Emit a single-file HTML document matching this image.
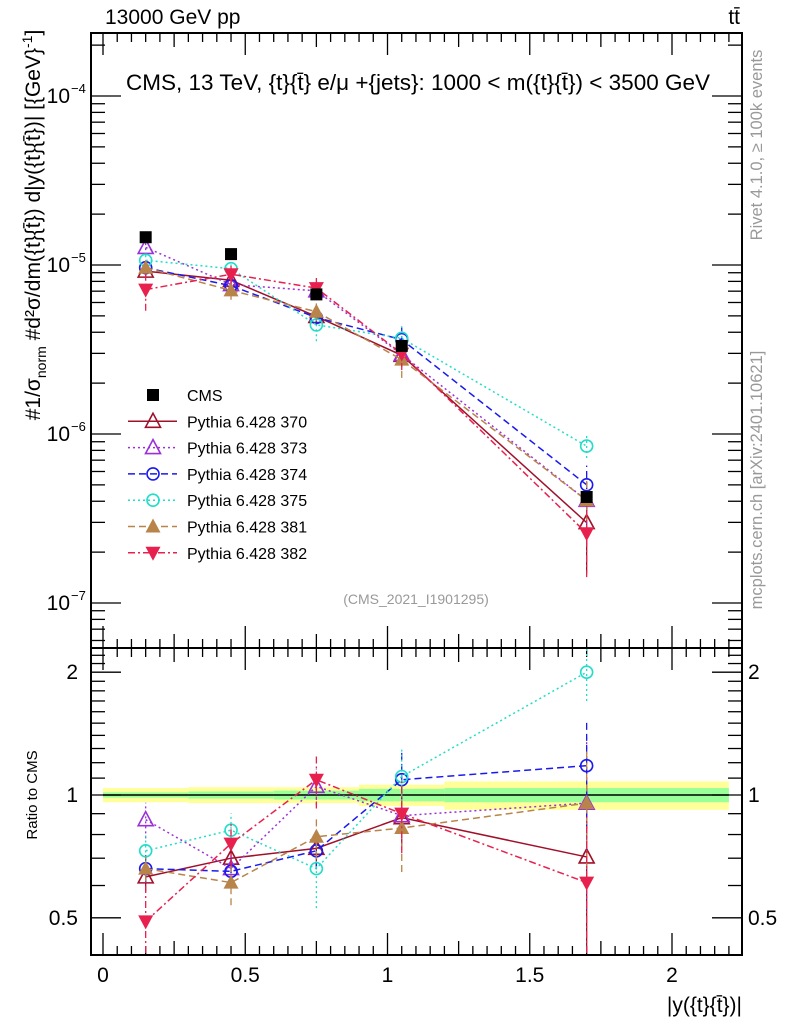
<!DOCTYPE html>
<html><head><meta charset="utf-8"><style>
html,body{margin:0;padding:0;background:#fff;}
svg{display:block;font-family:"Liberation Sans",sans-serif;}
</style></head><body>
<svg id="chart" width="786" height="1024" viewBox="0 0 786 1024">
<g id="bands"></g>
<g id="axes"></g>
<g id="series"></g>
<g id="legend"></g>
<text x="105" y="24" font-size="21">13000 GeV pp</text>
<text x="740" y="24" font-size="21" text-anchor="end">tt̄</text>
<text x="418" y="90" font-size="22.5" text-anchor="middle">CMS, 13 TeV, {t}{t̄} e/μ +{jets}: 1000 &lt; m({t}{t̄}) &lt; 3500 GeV</text>
<text x="416" y="604" font-size="14" fill="#999" text-anchor="middle">(CMS_2021_I1901295)</text>
<text transform="translate(762,145) rotate(-90)" font-size="16.5" fill="#999" text-anchor="middle">Rivet 4.1.0, ≥ 100k events</text>
<text transform="translate(762,480) rotate(-90)" font-size="16.5" fill="#999" text-anchor="middle">mcplots.cern.ch [arXiv:2401.10621]</text>
<text transform="translate(40,225) rotate(-90)" font-size="21" text-anchor="middle">#<tspan>1/σ</tspan><tspan font-size="14" dy="6">norm</tspan><tspan dy="-6"> #d²σ/dm({t}{t̄}) d|y({t}{t̄})| [{GeV}</tspan><tspan font-size="14" dy="-8">-1</tspan><tspan dy="8">]</tspan></text>
<text transform="translate(37,795) rotate(-90)" font-size="15" text-anchor="middle">Ratio to CMS</text>
<text x="742" y="1012" font-size="21" text-anchor="end">|y({t}{t̄})|</text>
</svg>
<script>
const xVals = [0.15, 0.45, 0.75, 1.05, 1.7];
const cmsVals = [1.46e-5, 1.16e-5, 6.7e-6, 3.32e-6, 4.24e-7];
const ratio370 = [0.63, 0.70, 0.74, 0.88, 0.705];
const ratio373 = [0.87, 0.66, 1.05, 0.89, 0.955];
const ratio374 = [0.66, 0.65, 0.73, 1.09, 1.18];
const ratio375 = [0.73, 0.82, 0.66, 1.11, 2.0];
const ratio381 = [0.66, 0.61, 0.79, 0.83, 0.955];
const ratio382 = [0.49, 0.76, 1.09, 0.90, 0.61];
const relErr370 = [0.08, 0.06, 0.1, 0.15, 0.5];
const relErr373 = [0.1, 0.08, 0.1, 0.15, 0.45];
const relErr374 = [0.08, 0.07, 0.1, 0.18, 0.3];
const relErr375 = [0.09, 0.1, 0.2, 0.18, 0.15];
const relErr381 = [0.07, 0.12, 0.12, 0.22, 0.35];
const relErr382 = [0.25, 0.12, 0.15, 0.2, 0.45];
const binEdges = [0, 0.3, 0.6, 0.9, 1.2, 2.2];
const bandYellow = [0.04, 0.045, 0.045, 0.06, 0.08];
const bandGreen = [0.015, 0.02, 0.025, 0.035, 0.04];
const mainTicks = ["10^-7","10^-6","10^-5","10^-4"];
const ratioTicks = [0.5, 1, 2];
const xTicks = [0, 0.5, 1, 1.5, 2];

const NS="http://www.w3.org/2000/svg";
const L=91,R=742,MT=33,MB=648,RT=648,RB=955;
const X=v=>103+(v)*284.5;
const Ym=v=>96+(-4-Math.log10(v))*169;
const Yr=v=>795-Math.log10(v)*408;
function el(tag,attrs,parent){const e=document.createElementNS(NS,tag);for(const k in attrs)e.setAttribute(k,attrs[k]);parent.appendChild(e);return e;}
const axes=document.getElementById('axes'),bands=document.getElementById('bands'),ser=document.getElementById('series'),leg=document.getElementById('legend');

for(let i=0;i<bandYellow.length;i++){
  const x0=X(binEdges[i]),x1=X(binEdges[i+1]);
  const y=el('rect',{x:x0,y:Yr(1+bandYellow[i]),width:x1-x0,height:Yr(1-bandYellow[i])-Yr(1+bandYellow[i]),fill:'#ffff99'},bands);
  
  
  const g=el('rect',{x:x0,y:Yr(1+bandGreen[i]),width:x1-x0,height:Yr(1-bandGreen[i])-Yr(1+bandGreen[i]),fill:'#99ff99'},bands);
  
  
}
el('line',{x1:X(0),x2:X(2.2),y1:Yr(1),y2:Yr(1),stroke:'#000','stroke-width':1.5},bands);

el('rect',{x:L,y:MT,width:R-L,height:MB-MT,fill:'none',stroke:'#000','stroke-width':2},axes);
el('rect',{x:L,y:RT,width:R-L,height:RB-RT,fill:'none',stroke:'#000','stroke-width':2},axes);
for(let k=0;k<=44;k++){const v=k*0.05;const x=X(v);if(x>R)break;const maj=k%10==0;const len=maj?22:(k%5==0?14:9);
  [[MT,1],[MB,-1],[RT,1],[RB,-1]].forEach(([y,d])=>el('line',{x1:x,x2:x,y1:y,y2:y+d*len,stroke:'#000','stroke-width':1.3},axes));}
xTicks.forEach(v=>{const t=el('text',{x:X(v),y:982,'font-size':21,'text-anchor':'middle'},axes);t.textContent=String(v);
  
  });
for(let e=-8;e<=-4;e++)for(let m=1;m<=9;m++){const v=m*Math.pow(10,e);const y=Ym(v);if(y<MT||y>MB)continue;const len=m==1?30:14;
  el('line',{x1:L,x2:L+len,y1:y,y2:y,stroke:'#000','stroke-width':1.3},axes);el('line',{x1:R,x2:R-len,y1:y,y2:y,stroke:'#000','stroke-width':1.3},axes);}
mainTicks.forEach(s=>{const e=parseInt(s.split('^')[1]);const y=Ym(Math.pow(10,e));
  const t=el('text',{x:70,y:y+7,'font-size':21,'text-anchor':'end'},axes);t.textContent='10';
  
  
  const s2=el('text',{x:71,y:y-3,'font-size':13},axes);s2.textContent='−'+(-e);});
for(let k=4;k<=22;k++){const v=k/10;const y=Yr(v);if(y<RT||y>RB)continue;const maj=(k==5||k==10||k==20);const len=maj?30:14;
  el('line',{x1:L,x2:L+len,y1:y,y2:y,stroke:'#000','stroke-width':1.3},axes);el('line',{x1:R,x2:R-len,y1:y,y2:y,stroke:'#000','stroke-width':1.3},axes);}
ratioTicks.forEach(v=>{const y=Yr(v);
  const t=el('text',{x:78,y:y+7,'font-size':21,'text-anchor':'end'},axes);t.textContent=String(v);
  
  
  const t2=el('text',{x:748,y:y+7,'font-size':21},axes);t2.textContent=String(v);
  
  });

function marker(type,x,y,color,parent){
  if(type=='sq')return el('rect',{x:x-6,y:y-6,width:12,height:12,fill:'#000'},parent);
  if(type=='tri')return el('polygon',{points:`${x},${y-8} ${x-7.5},${y+6} ${x+7.5},${y+6}`,fill:'none',stroke:color,'stroke-width':1.6},parent);
  if(type=='trif')return el('polygon',{points:`${x},${y-8} ${x-7.5},${y+6} ${x+7.5},${y+6}`,fill:color},parent);
  if(type=='trid')return el('polygon',{points:`${x},${y+8} ${x-7.5},${y-6} ${x+7.5},${y-6}`,fill:color},parent);
  if(type=='circ')return el('circle',{cx:x,cy:y,r:6,fill:'none',stroke:color,'stroke-width':1.6},parent);
}
const seriesDefs=[
 {name:'Pythia 6.428 370',r:ratio370,e:relErr370,c:'#a0102a',m:'tri',d:''},
 {name:'Pythia 6.428 373',r:ratio373,e:relErr373,c:'#9b30d9',m:'tri',d:'2,3'},
 {name:'Pythia 6.428 374',r:ratio374,e:relErr374,c:'#1a1aee',m:'circ',d:'7,4'},
 {name:'Pythia 6.428 375',r:ratio375,e:relErr375,c:'#22ddc8',m:'circ',d:'2,3'},
 {name:'Pythia 6.428 381',r:ratio381,e:relErr381,c:'#b8844a',m:'trif',d:'7,4'},
 {name:'Pythia 6.428 382',r:ratio382,e:relErr382,c:'#e8204e',m:'trid',d:'7,3,2,3'}];
seriesDefs.forEach(s=>{
  const g=el('g',{},ser);
  
  
  const pm=[],pr=[];
  xVals.forEach((xv,i)=>{const v=cmsVals[i]*s.r[i];const x=X(xv);
    pm.push(x+','+Ym(v));pr.push(x+','+Yr(s.r[i]));
    const lo=Math.max(s.r[i]*(1-s.e[i]),0.41),hi=Math.min(s.r[i]*(1+s.e[i]),2.28);
    el('line',{x1:x,x2:x,y1:Ym(v*(1-s.e[i])),y2:Ym(v*(1+s.e[i])),stroke:s.c,'stroke-width':1.3,'stroke-dasharray':s.d},g);
    el('line',{x1:x,x2:x,y1:Yr(lo),y2:Yr(hi),stroke:s.c,'stroke-width':1.3,'stroke-dasharray':s.d},g);});
  el('polyline',{points:pm.join(' '),fill:'none',stroke:s.c,'stroke-width':1.5,'stroke-dasharray':s.d},g);
  el('polyline',{points:pr.join(' '),fill:'none',stroke:s.c,'stroke-width':1.5,'stroke-dasharray':s.d},g);
  xVals.forEach((xv,i)=>{const v=cmsVals[i]*s.r[i];
    const a=marker(s.m,X(xv),Ym(v),s.c,g);
    
    
    const b=marker(s.m,X(xv),Yr(s.r[i]),s.c,g);
    
    });
});
xVals.forEach((xv,i)=>{const m=marker('sq',X(xv),Ym(cmsVals[i]),'#000',ser);
  
  });

const ly0=395,ldy=26.3;
marker('sq',153,ly0,'#000',leg);
const t0=el('text',{x:187,y:ly0+6,'font-size':16},leg);t0.textContent='CMS';


seriesDefs.forEach((s,i)=>{const y=ly0+ldy*(i+1);
  el('line',{x1:128,x2:177,y1:y,y2:y,stroke:s.c,'stroke-width':1.5,'stroke-dasharray':s.d},leg);
  marker(s.m,153,y,s.c,leg);
  const t=el('text',{x:187,y:y+6,'font-size':16},leg);t.textContent=s.name;
  
  });
</script>
</body></html>
